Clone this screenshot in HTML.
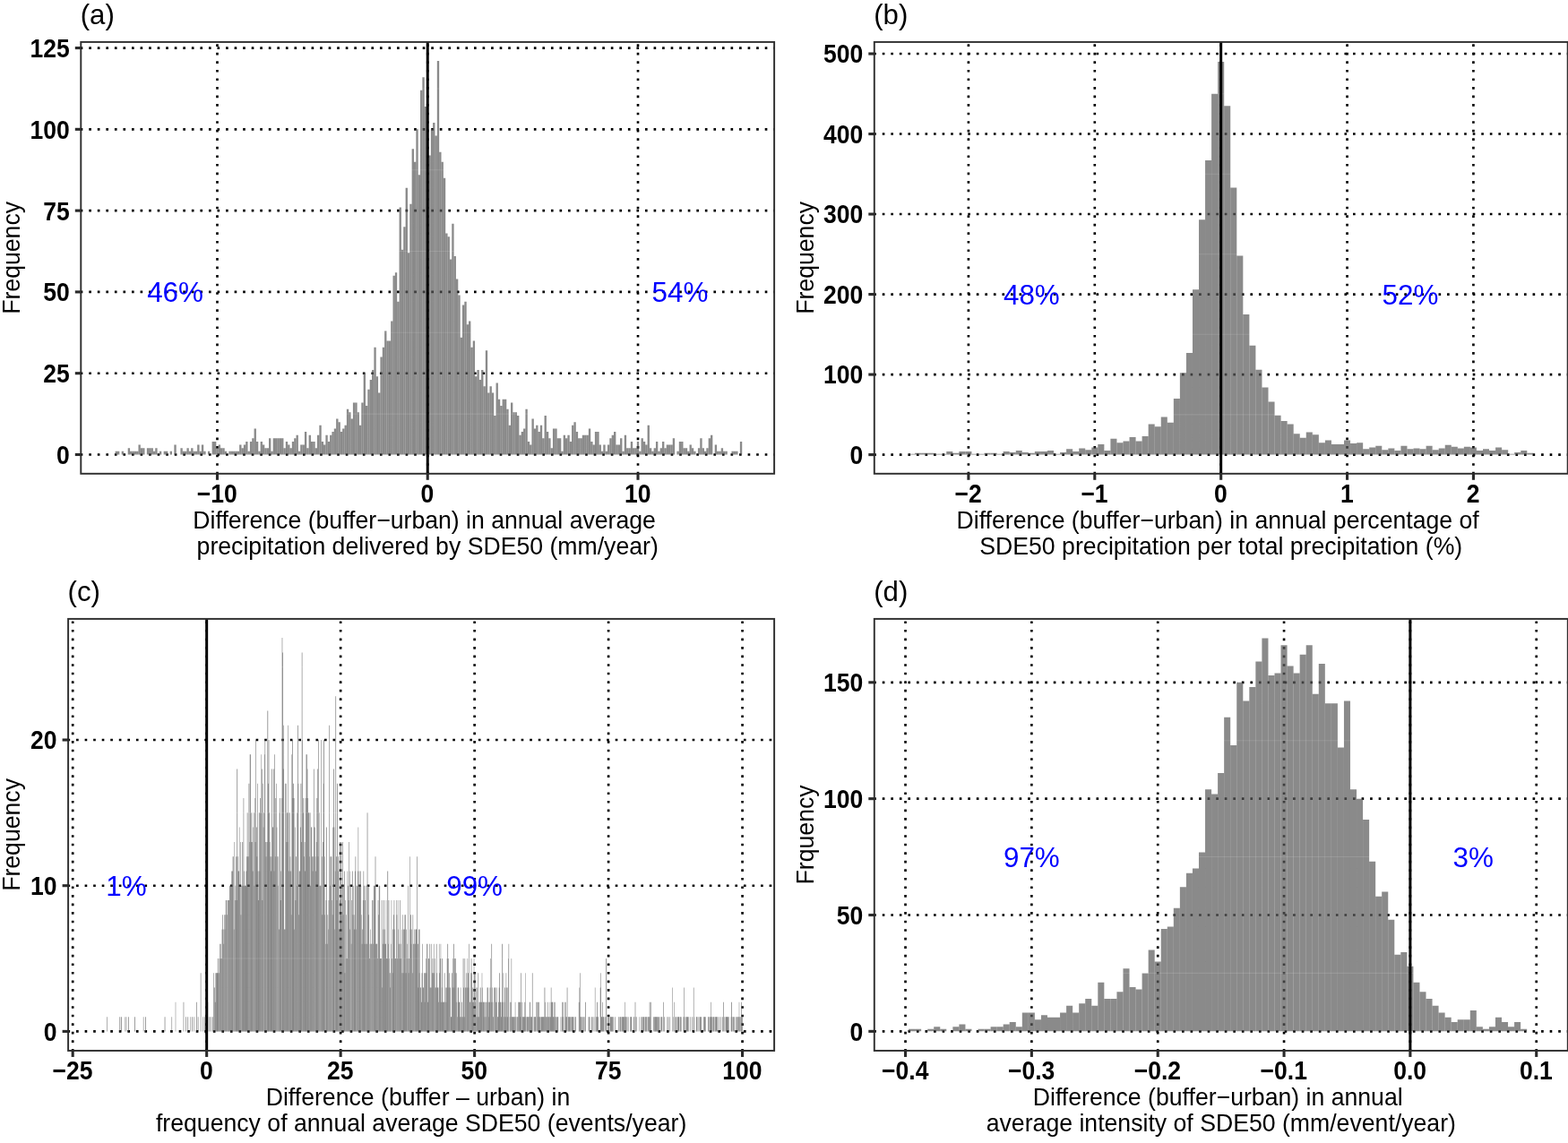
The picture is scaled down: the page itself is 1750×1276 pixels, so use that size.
<!DOCTYPE html>
<html><head><meta charset="utf-8"><title>Figure</title>
<style>
html,body{margin:0;padding:0;background:#fff}
svg{display:block;font-family:"Liberation Sans",sans-serif}
.g{stroke:#000;stroke-width:2.65;stroke-dasharray:2.65 6.9;fill:none}
.b{fill:#595959;fill-opacity:.7}
.mn{stroke:#fff;stroke-width:1.1;stroke-opacity:.12}
.bc{fill:#595959;fill-opacity:.85}
.fr{fill:none;stroke:#303030;stroke-width:1.95}
.tk{stroke:#2a2a2a;stroke-width:3.1}
.yk{font-size:26.5px;font-weight:bold;text-anchor:end;fill:#000}
.xk{font-size:26.5px;font-weight:bold;text-anchor:middle;fill:#000}
.tt{font-size:26.65px;text-anchor:middle;fill:#000}
.lb{font-size:31.2px;fill:#000}
.an{font-size:31.4px;text-anchor:middle;fill:#00f}
</style></head><body>
<svg width="1750" height="1276" viewBox="0 0 1750 1276">
<rect width="1750" height="1276" fill="#fff"/>
<line x1="89.7" y1="507.5" x2="864.1" y2="507.5" class="g"/>
<line x1="89.7" y1="416.71" x2="864.1" y2="416.71" class="g"/>
<line x1="89.7" y1="325.92" x2="864.1" y2="325.92" class="g"/>
<line x1="89.7" y1="235.13" x2="864.1" y2="235.13" class="g"/>
<line x1="89.7" y1="144.34" x2="864.1" y2="144.34" class="g"/>
<line x1="89.7" y1="53.55" x2="864.1" y2="53.55" class="g"/>
<line x1="242.49" y1="529.4" x2="242.49" y2="46.9" class="g"/>
<line x1="477.25" y1="529.4" x2="477.25" y2="46.9" class="g"/>
<line x1="712.01" y1="529.4" x2="712.01" y2="46.9" class="g"/>
<path class="b" d="M130.98 507.5V503.87H133.33V507.5zM135.67 507.5V503.87H138.02V507.5zM145.06 507.5V503.87H147.41V507.5zM149.76 507.5V503.87H152.11V507.5zM154.46 507.5V496.61H156.8V507.5zM159.15 507.5V500.24H161.5V507.5zM163.85 507.5V500.24H166.19V507.5zM168.54 507.5V500.24H170.89V507.5zM173.24 507.5V500.24H175.58V507.5zM177.93 507.5V503.87H180.28V507.5zM182.63 507.5V503.87H184.97V507.5zM201.41 507.5V500.24H203.75V507.5zM206.1 507.5V503.87H208.45V507.5zM210.8 507.5V503.87H213.14V507.5zM215.49 507.5V503.87H217.84V507.5zM220.19 507.5V496.61H222.54V507.5zM224.88 507.5V496.61H227.23V507.5zM238.97 507.5V492.97H241.32V507.5zM243.66 507.5V496.61H246.01V507.5zM248.36 507.5V500.24H250.71V507.5zM257.75 507.5V503.87H260.1V507.5zM262.44 507.5V503.87H264.79V507.5zM267.14 507.5V496.61H269.49V507.5zM271.84 507.5V496.61H274.18V507.5zM276.53 507.5V503.87H278.88V507.5zM281.23 507.5V489.34H283.57V507.5zM285.92 507.5V492.97H288.27V507.5zM290.62 507.5V492.97H292.96V507.5zM295.31 507.5V500.24H297.66V507.5zM300.01 507.5V489.34H302.35V507.5zM304.7 507.5V489.34H307.05V507.5zM309.4 507.5V489.34H311.74V507.5zM314.09 507.5V489.34H316.44V507.5zM318.79 507.5V492.97H321.13V507.5zM323.48 507.5V500.24H325.83V507.5zM328.18 507.5V489.34H330.52V507.5zM332.87 507.5V503.87H335.22V507.5zM337.57 507.5V496.61H339.92V507.5zM342.26 507.5V500.24H344.61V507.5zM346.96 507.5V492.97H349.31V507.5zM351.65 507.5V500.24H354V507.5zM356.35 507.5V474.82H358.7V507.5zM361.04 507.5V496.61H363.39V507.5zM365.74 507.5V492.97H368.09V507.5zM370.43 507.5V482.08H372.78V507.5zM375.13 507.5V467.55H377.48V507.5zM379.82 507.5V482.08H382.17V507.5zM384.52 507.5V474.82H386.87V507.5zM389.22 507.5V460.29H391.56V507.5zM393.91 507.5V449.39H396.26V507.5zM398.61 507.5V460.29H400.95V507.5zM403.3 507.5V449.39H405.65V507.5zM408 507.5V453.03H410.34V507.5zM412.69 507.5V423.97H415.04V507.5zM417.39 507.5V387.66H419.73V507.5zM422.08 507.5V438.5H424.43V507.5zM426.78 507.5V387.66H429.12V507.5zM431.47 507.5V380.39H433.82V507.5zM436.17 507.5V358.6H438.51V507.5zM440.86 507.5V304.13H443.21V507.5zM445.56 507.5V231.5H447.91V507.5zM450.25 507.5V253.29H452.6V507.5zM454.95 507.5V282.34H457.3V507.5zM459.64 507.5V166.13H461.99V507.5zM464.34 507.5V144.34H466.69V507.5zM469.03 507.5V100.76H471.38V507.5zM473.73 507.5V118.92H476.08V507.5zM478.42 507.5V173.39H480.77V507.5zM483.12 507.5V137.08H485.47V507.5zM487.81 507.5V68.08H490.16V507.5zM492.51 507.5V180.66H494.86V507.5zM497.2 507.5V260.55H499.55V507.5zM501.9 507.5V289.6H504.25V507.5zM506.6 507.5V285.97H508.94V507.5zM511.29 507.5V329.55H513.64V507.5zM515.99 507.5V340.45H518.33V507.5zM520.68 507.5V362.24H523.03V507.5zM525.38 507.5V387.66H527.72V507.5zM530.07 507.5V420.34H532.42V507.5zM534.77 507.5V423.97H537.11V507.5zM539.46 507.5V431.24H541.81V507.5zM544.16 507.5V438.5H546.5V507.5zM548.85 507.5V438.5H551.2V507.5zM553.55 507.5V427.6H555.89V507.5zM558.24 507.5V453.03H560.59V507.5zM562.94 507.5V445.76H565.29V507.5zM567.63 507.5V474.82H569.98V507.5zM572.33 507.5V460.29H574.68V507.5zM577.02 507.5V463.92H579.37V507.5zM581.72 507.5V482.08H584.07V507.5zM586.41 507.5V456.66H588.76V507.5zM591.11 507.5V496.61H593.46V507.5zM595.8 507.5V478.45H598.15V507.5zM600.5 507.5V482.08H602.85V507.5zM605.19 507.5V489.34H607.54V507.5zM609.89 507.5V482.08H612.24V507.5zM614.58 507.5V500.24H616.93V507.5zM619.28 507.5V478.45H621.63V507.5zM623.98 507.5V489.34H626.32V507.5zM628.67 507.5V485.71H631.02V507.5zM633.37 507.5V485.71H635.71V507.5zM638.06 507.5V474.82H640.41V507.5zM642.76 507.5V482.08H645.1V507.5zM647.45 507.5V489.34H649.8V507.5zM652.15 507.5V485.71H654.49V507.5zM656.84 507.5V478.45H659.19V507.5zM661.54 507.5V496.61H663.88V507.5zM666.23 507.5V482.08H668.58V507.5zM670.93 507.5V503.87H673.27V507.5zM675.62 507.5V503.87H677.97V507.5zM680.32 507.5V489.34H682.66V507.5zM685.01 507.5V482.08H687.36V507.5zM689.71 507.5V496.61H692.06V507.5zM694.4 507.5V503.87H696.75V507.5zM699.1 507.5V500.24H701.45V507.5zM703.79 507.5V492.97H706.14V507.5zM708.49 507.5V500.24H710.84V507.5zM713.18 507.5V503.87H715.53V507.5zM717.88 507.5V492.97H720.23V507.5zM722.57 507.5V474.82H724.92V507.5zM727.27 507.5V503.87H729.62V507.5zM731.96 507.5V492.97H734.31V507.5zM736.66 507.5V500.24H739.01V507.5zM741.36 507.5V500.24H743.7V507.5zM746.05 507.5V496.61H748.4V507.5zM750.75 507.5V489.34H753.09V507.5zM755.44 507.5V503.87H757.79V507.5zM760.14 507.5V492.97H762.48V507.5zM764.83 507.5V500.24H767.18V507.5zM769.53 507.5V496.61H771.87V507.5zM774.22 507.5V503.87H776.57V507.5zM778.92 507.5V500.24H781.26V507.5zM783.61 507.5V500.24H785.96V507.5zM788.31 507.5V500.24H790.65V507.5zM793 507.5V485.71H795.35V507.5zM797.7 507.5V496.61H800.05V507.5zM802.39 507.5V503.87H804.74V507.5zM807.09 507.5V503.87H809.44V507.5zM816.48 507.5V503.87H818.83V507.5zM821.17 507.5V503.87H823.52V507.5zM825.87 507.5V492.97H828.22V507.5z"/><path class="b" d="M128.63 507.5V503.87H130.98V507.5zM142.72 507.5V500.24H145.06V507.5zM147.41 507.5V503.87H149.76V507.5zM152.11 507.5V503.87H154.46V507.5zM156.8 507.5V500.24H159.15V507.5zM166.19 507.5V500.24H168.54V507.5zM170.89 507.5V503.87H173.24V507.5zM184.97 507.5V503.87H187.32V507.5zM189.67 507.5V503.87H192.02V507.5zM194.36 507.5V496.61H196.71V507.5zM203.75 507.5V503.87H206.1V507.5zM208.45 507.5V500.24H210.8V507.5zM213.14 507.5V500.24H215.49V507.5zM217.84 507.5V503.87H220.19V507.5zM222.54 507.5V503.87H224.88V507.5zM227.23 507.5V503.87H229.58V507.5zM231.93 507.5V503.87H234.27V507.5zM236.62 507.5V492.97H238.97V507.5zM241.32 507.5V500.24H243.66V507.5zM246.01 507.5V500.24H248.36V507.5zM250.71 507.5V503.87H253.05V507.5zM255.4 507.5V503.87H257.75V507.5zM260.1 507.5V503.87H262.44V507.5zM264.79 507.5V503.87H267.14V507.5zM269.49 507.5V500.24H271.84V507.5zM274.18 507.5V492.97H276.53V507.5zM278.88 507.5V492.97H281.23V507.5zM283.57 507.5V478.45H285.92V507.5zM288.27 507.5V503.87H290.62V507.5zM292.96 507.5V496.61H295.31V507.5zM297.66 507.5V500.24H300.01V507.5zM302.35 507.5V503.87H304.7V507.5zM307.05 507.5V489.34H309.4V507.5zM311.74 507.5V489.34H314.09V507.5zM316.44 507.5V500.24H318.79V507.5zM321.13 507.5V496.61H323.48V507.5zM325.83 507.5V492.97H328.18V507.5zM330.53 507.5V485.71H332.87V507.5zM335.22 507.5V496.61H337.57V507.5zM339.92 507.5V482.08H342.26V507.5zM344.61 507.5V485.71H346.96V507.5zM349.31 507.5V492.97H351.65V507.5zM354 507.5V485.71H356.35V507.5zM358.7 507.5V492.97H361.04V507.5zM363.39 507.5V485.71H365.74V507.5zM368.09 507.5V485.71H370.43V507.5zM372.78 507.5V478.45H375.13V507.5zM377.48 507.5V471.18H379.82V507.5zM382.17 507.5V478.45H384.52V507.5zM386.87 507.5V456.66H389.22V507.5zM391.56 507.5V467.55H393.91V507.5zM396.26 507.5V449.39H398.61V507.5zM400.95 507.5V474.82H403.3V507.5zM405.65 507.5V416.71H408V507.5zM410.34 507.5V434.87H412.69V507.5zM415.04 507.5V413.08H417.39V507.5zM419.73 507.5V420.34H422.08V507.5zM424.43 507.5V398.55H426.78V507.5zM429.12 507.5V369.5H431.47V507.5zM433.82 507.5V380.39H436.17V507.5zM438.51 507.5V307.76H440.86V507.5zM443.21 507.5V336.81H445.56V507.5zM447.91 507.5V278.71H450.25V507.5zM452.6 507.5V209.71H454.95V507.5zM457.3 507.5V227.87H459.64V507.5zM461.99 507.5V180.66H464.34V507.5zM466.69 507.5V195.18H469.03V507.5zM471.38 507.5V86.23H473.73V507.5zM476.08 507.5V144.34H478.42V507.5zM480.77 507.5V144.34H483.12V507.5zM485.47 507.5V151.6H487.81V507.5zM490.16 507.5V169.76H492.51V507.5zM494.86 507.5V198.81H497.2V507.5zM499.55 507.5V264.18H501.9V507.5zM504.25 507.5V249.66H506.6V507.5zM508.94 507.5V311.39H511.29V507.5zM513.64 507.5V376.76H515.99V507.5zM518.33 507.5V336.81H520.68V507.5zM523.03 507.5V358.6H525.38V507.5zM527.72 507.5V380.39H530.07V507.5zM532.42 507.5V413.08H534.77V507.5zM537.11 507.5V413.08H539.46V507.5zM541.81 507.5V391.29H544.16V507.5zM546.5 507.5V431.24H548.85V507.5zM551.2 507.5V463.92H553.55V507.5zM555.89 507.5V445.76H558.24V507.5zM560.59 507.5V445.76H562.94V507.5zM565.28 507.5V456.66H567.63V507.5zM569.98 507.5V449.39H572.33V507.5zM574.68 507.5V460.29H577.02V507.5zM579.37 507.5V485.71H581.72V507.5zM584.07 507.5V478.45H586.41V507.5zM588.76 507.5V492.97H591.11V507.5zM593.46 507.5V467.55H595.8V507.5zM598.15 507.5V474.82H600.5V507.5zM602.85 507.5V474.82H605.19V507.5zM607.54 507.5V463.92H609.89V507.5zM612.24 507.5V489.34H614.58V507.5zM616.93 507.5V478.45H619.28V507.5zM621.63 507.5V489.34H623.98V507.5zM626.32 507.5V503.87H628.67V507.5zM631.02 507.5V489.34H633.37V507.5zM635.71 507.5V492.97H638.06V507.5zM640.41 507.5V471.18H642.76V507.5zM645.1 507.5V489.34H647.45V507.5zM649.8 507.5V485.71H652.15V507.5zM654.49 507.5V485.71H656.84V507.5zM659.19 507.5V492.97H661.54V507.5zM663.88 507.5V482.08H666.23V507.5zM668.58 507.5V496.61H670.93V507.5zM673.27 507.5V496.61H675.62V507.5zM677.97 507.5V496.61H680.32V507.5zM682.67 507.5V485.71H685.01V507.5zM687.36 507.5V496.61H689.71V507.5zM692.06 507.5V489.34H694.4V507.5zM696.75 507.5V485.71H699.1V507.5zM701.45 507.5V500.24H703.79V507.5zM706.14 507.5V500.24H708.49V507.5zM710.84 507.5V492.97H713.18V507.5zM715.53 507.5V489.34H717.88V507.5zM720.23 507.5V496.61H722.57V507.5zM724.92 507.5V500.24H727.27V507.5zM729.62 507.5V500.24H731.96V507.5zM734.31 507.5V503.87H736.66V507.5zM739.01 507.5V492.97H741.36V507.5zM743.7 507.5V496.61H746.05V507.5zM748.4 507.5V496.61H750.75V507.5zM757.79 507.5V492.97H760.14V507.5zM762.48 507.5V500.24H764.83V507.5zM767.18 507.5V503.87H769.53V507.5zM771.87 507.5V500.24H774.22V507.5zM781.26 507.5V489.34H783.61V507.5zM785.96 507.5V503.87H788.31V507.5zM790.65 507.5V489.34H793V507.5zM800.05 507.5V503.87H802.39V507.5zM804.74 507.5V500.24H807.09V507.5zM809.44 507.5V503.87H811.78V507.5zM818.83 507.5V503.87H821.17V507.5z"/>
<line x1="90.3" y1="462.11" x2="864.1" y2="462.11" class="mn"/>
<line x1="90.3" y1="371.31" x2="864.1" y2="371.31" class="mn"/>
<line x1="90.3" y1="280.52" x2="864.1" y2="280.52" class="mn"/>
<line x1="90.3" y1="189.74" x2="864.1" y2="189.74" class="mn"/>
<line x1="90.3" y1="98.94" x2="864.1" y2="98.94" class="mn"/>
<line x1="477.25" y1="46.9" x2="477.25" y2="528.8" stroke="#000" stroke-width="3"/>
<text x="195.54" y="337.16" class="an">46%</text>
<text x="758.96" y="337.16" class="an">54%</text>
<rect x="90.3" y="46.9" width="773.8" height="481.9" class="fr"/>
<line x1="83.8" y1="507.5" x2="90.3" y2="507.5" class="tk"/>
<text transform="translate(77.7 517.9) scale(1 1.08)" class="yk">0</text>
<line x1="83.8" y1="416.71" x2="90.3" y2="416.71" class="tk"/>
<text transform="translate(77.7 427.11) scale(1 1.08)" class="yk">25</text>
<line x1="83.8" y1="325.92" x2="90.3" y2="325.92" class="tk"/>
<text transform="translate(77.7 336.32) scale(1 1.08)" class="yk">50</text>
<line x1="83.8" y1="235.13" x2="90.3" y2="235.13" class="tk"/>
<text transform="translate(77.7 245.53) scale(1 1.08)" class="yk">75</text>
<line x1="83.8" y1="144.34" x2="90.3" y2="144.34" class="tk"/>
<text transform="translate(77.7 154.74) scale(1 1.08)" class="yk">100</text>
<line x1="83.8" y1="53.55" x2="90.3" y2="53.55" class="tk"/>
<text transform="translate(77.7 63.95) scale(1 1.08)" class="yk">125</text>
<line x1="242.49" y1="528.8" x2="242.49" y2="535.8" class="tk"/>
<text transform="translate(242.19 561.1) scale(1 1.08)" class="xk">−10</text>
<line x1="477.25" y1="528.8" x2="477.25" y2="535.8" class="tk"/>
<text transform="translate(476.95 561.1) scale(1 1.08)" class="xk">0</text>
<line x1="712.01" y1="528.8" x2="712.01" y2="535.8" class="tk"/>
<text transform="translate(711.71 561.1) scale(1 1.08)" class="xk">10</text>
<text transform="translate(473.6 590.1) scale(1 1.035)" class="tt">Difference (buffer−urban) in annual average</text>
<text transform="translate(477.2 618.6) scale(1 1.035)" class="tt">precipitation delivered by SDE50 (mm/year)</text>
<text transform="translate(22 287.85) rotate(-90) scale(1 1.035)" class="tt">Frequency</text>
<text x="89.7" y="27.4" class="lb">(a)</text>
<line x1="975.2" y1="507.6" x2="1749.7" y2="507.6" class="g"/>
<line x1="975.2" y1="418.08" x2="1749.7" y2="418.08" class="g"/>
<line x1="975.2" y1="328.56" x2="1749.7" y2="328.56" class="g"/>
<line x1="975.2" y1="239.04" x2="1749.7" y2="239.04" class="g"/>
<line x1="975.2" y1="149.52" x2="1749.7" y2="149.52" class="g"/>
<line x1="975.2" y1="60" x2="1749.7" y2="60" class="g"/>
<line x1="1080.91" y1="529.4" x2="1080.91" y2="46.9" class="g"/>
<line x1="1221.79" y1="529.4" x2="1221.79" y2="46.9" class="g"/>
<line x1="1362.67" y1="529.4" x2="1362.67" y2="46.9" class="g"/>
<line x1="1503.55" y1="529.4" x2="1503.55" y2="46.9" class="g"/>
<line x1="1644.43" y1="529.4" x2="1644.43" y2="46.9" class="g"/>
<path class="b" d="M1021.04 507.6V505.81H1028.08V507.6zM1035.12 507.6V505.81H1042.17V507.6zM1049.21 507.6V506.7H1056.26V507.6zM1063.3 507.6V505.81H1070.34V507.6zM1077.39 507.6V504.02H1084.43V507.6zM1091.48 507.6V506.7H1098.52V507.6zM1105.56 507.6V505.81H1112.61V507.6zM1119.65 507.6V504.02H1126.7V507.6zM1133.74 507.6V503.12H1140.78V507.6zM1147.83 507.6V505.81H1154.87V507.6zM1161.92 507.6V504.02H1168.96V507.6zM1176 507.6V506.7H1183.05V507.6zM1190.09 507.6V501.33H1197.14V507.6zM1204.18 507.6V500.44H1211.22V507.6zM1218.27 507.6V499.54H1225.31V507.6zM1232.36 507.6V503.12H1239.4V507.6zM1246.44 507.6V494.17H1253.49V507.6zM1260.53 507.6V487.91H1267.58V507.6zM1274.62 507.6V487.01H1281.66V507.6zM1288.71 507.6V476.27H1295.75V507.6zM1302.8 507.6V471.79H1309.84V507.6zM1316.88 507.6V416.29H1323.93V507.6zM1330.97 507.6V323.19H1338.02V507.6zM1345.06 507.6V179.06H1352.1V507.6zM1359.15 507.6V68.95H1366.19V507.6zM1373.24 507.6V209.5H1380.28V507.6zM1387.32 507.6V350.94H1394.37V507.6zM1401.41 507.6V412.71H1408.46V507.6zM1415.5 507.6V448.52H1422.54V507.6zM1429.59 507.6V470H1436.63V507.6zM1443.68 507.6V484.32H1450.72V507.6zM1457.76 507.6V482.53H1464.81V507.6zM1471.85 507.6V494.17H1478.9V507.6zM1485.94 507.6V495.96H1492.98V507.6zM1500.03 507.6V491.49H1507.07V507.6zM1514.12 507.6V494.17H1521.16V507.6zM1528.2 507.6V499.54H1535.25V507.6zM1542.29 507.6V502.23H1549.34V507.6zM1556.38 507.6V503.12H1563.42V507.6zM1570.47 507.6V501.33H1577.51V507.6zM1584.56 507.6V501.33H1591.6V507.6zM1598.64 507.6V502.23H1605.69V507.6zM1612.73 507.6V496.86H1619.78V507.6zM1626.82 507.6V500.44H1633.86V507.6zM1640.91 507.6V499.54H1647.95V507.6zM1655 507.6V501.33H1662.04V507.6zM1669.08 507.6V499.54H1676.13V507.6zM1683.17 507.6V506.7H1690.22V507.6zM1697.26 507.6V503.12H1704.3V507.6z"/><path class="b" d="M1013.99 507.6V506.7H1021.04V507.6zM1028.08 507.6V505.81H1035.12V507.6zM1042.17 507.6V506.7H1049.21V507.6zM1056.26 507.6V504.02H1063.3V507.6zM1070.34 507.6V504.02H1077.39V507.6zM1084.43 507.6V506.7H1091.48V507.6zM1098.52 507.6V505.81H1105.56V507.6zM1112.61 507.6V506.7H1119.65V507.6zM1126.7 507.6V504.91H1133.74V507.6zM1140.78 507.6V504.91H1147.83V507.6zM1154.87 507.6V504.02H1161.92V507.6zM1168.96 507.6V503.12H1176V507.6zM1183.05 507.6V504.91H1190.09V507.6zM1197.14 507.6V504.02H1204.18V507.6zM1211.22 507.6V502.23H1218.27V507.6zM1225.31 507.6V495.96H1232.36V507.6zM1239.4 507.6V489.7H1246.44V507.6zM1253.49 507.6V492.38H1260.53V507.6zM1267.58 507.6V492.38H1274.62V507.6zM1281.66 507.6V473.58H1288.71V507.6zM1295.75 507.6V465.53H1302.8V507.6zM1309.84 507.6V444.94H1316.88V507.6zM1323.93 507.6V393.91H1330.97V507.6zM1338.02 507.6V245.31H1345.06V507.6zM1352.1 507.6V104.76H1359.15V507.6zM1366.19 507.6V118.19H1373.24V507.6zM1380.28 507.6V285.59H1387.32V507.6zM1394.37 507.6V385.85H1401.41V507.6zM1408.46 507.6V432.4H1415.5V507.6zM1422.54 507.6V463.74H1429.59V507.6zM1436.63 507.6V473.58H1443.68V507.6zM1450.72 507.6V488.8H1457.76V507.6zM1464.81 507.6V485.22H1471.85V507.6zM1478.9 507.6V491.49H1485.94V507.6zM1492.98 507.6V495.96H1500.03V507.6zM1507.07 507.6V495.07H1514.12V507.6zM1521.16 507.6V501.33H1528.2V507.6zM1535.25 507.6V497.75H1542.29V507.6zM1549.34 507.6V500.44H1556.38V507.6zM1563.42 507.6V497.75H1570.47V507.6zM1577.51 507.6V500.44H1584.56V507.6zM1591.6 507.6V497.75H1598.64V507.6zM1605.69 507.6V500.44H1612.73V507.6zM1619.78 507.6V498.65H1626.82V507.6zM1633.86 507.6V498.65H1640.91V507.6zM1647.95 507.6V503.12H1655V507.6zM1662.04 507.6V503.12H1669.08V507.6zM1676.13 507.6V502.23H1683.17V507.6zM1690.22 507.6V504.91H1697.26V507.6zM1704.3 507.6V505.81H1711.35V507.6z"/>
<line x1="975.8" y1="462.84" x2="1749.7" y2="462.84" class="mn"/>
<line x1="975.8" y1="373.32" x2="1749.7" y2="373.32" class="mn"/>
<line x1="975.8" y1="283.8" x2="1749.7" y2="283.8" class="mn"/>
<line x1="975.8" y1="194.28" x2="1749.7" y2="194.28" class="mn"/>
<line x1="975.8" y1="104.76" x2="1749.7" y2="104.76" class="mn"/>
<line x1="1362.67" y1="46.9" x2="1362.67" y2="528.8" stroke="#000" stroke-width="3"/>
<text x="1151.35" y="339.8" class="an">48%</text>
<text x="1573.99" y="339.8" class="an">52%</text>
<rect x="975.8" y="46.9" width="773.9" height="481.9" class="fr"/>
<line x1="969.3" y1="507.6" x2="975.8" y2="507.6" class="tk"/>
<text transform="translate(963.2 518) scale(1 1.08)" class="yk">0</text>
<line x1="969.3" y1="418.08" x2="975.8" y2="418.08" class="tk"/>
<text transform="translate(963.2 428.48) scale(1 1.08)" class="yk">100</text>
<line x1="969.3" y1="328.56" x2="975.8" y2="328.56" class="tk"/>
<text transform="translate(963.2 338.96) scale(1 1.08)" class="yk">200</text>
<line x1="969.3" y1="239.04" x2="975.8" y2="239.04" class="tk"/>
<text transform="translate(963.2 249.44) scale(1 1.08)" class="yk">300</text>
<line x1="969.3" y1="149.52" x2="975.8" y2="149.52" class="tk"/>
<text transform="translate(963.2 159.92) scale(1 1.08)" class="yk">400</text>
<line x1="969.3" y1="60" x2="975.8" y2="60" class="tk"/>
<text transform="translate(963.2 70.4) scale(1 1.08)" class="yk">500</text>
<line x1="1080.91" y1="528.8" x2="1080.91" y2="535.8" class="tk"/>
<text transform="translate(1080.61 561.1) scale(1 1.08)" class="xk">−2</text>
<line x1="1221.79" y1="528.8" x2="1221.79" y2="535.8" class="tk"/>
<text transform="translate(1221.49 561.1) scale(1 1.08)" class="xk">−1</text>
<line x1="1362.67" y1="528.8" x2="1362.67" y2="535.8" class="tk"/>
<text transform="translate(1362.37 561.1) scale(1 1.08)" class="xk">0</text>
<line x1="1503.55" y1="528.8" x2="1503.55" y2="535.8" class="tk"/>
<text transform="translate(1503.25 561.1) scale(1 1.08)" class="xk">1</text>
<line x1="1644.43" y1="528.8" x2="1644.43" y2="535.8" class="tk"/>
<text transform="translate(1644.13 561.1) scale(1 1.08)" class="xk">2</text>
<text transform="translate(1359.15 590.1) scale(1 1.035)" class="tt">Difference (buffer−urban) in annual percentage of</text>
<text transform="translate(1362.75 618.6) scale(1 1.035)" class="tt">SDE50 precipitation per total precipitation (%)</text>
<text transform="translate(907.7 287.85) rotate(-90) scale(1 1.035)" class="tt">Frequency</text>
<text x="975.2" y="27.4" class="lb">(b)</text>
<line x1="75.5" y1="1151.4" x2="864.1" y2="1151.4" class="g"/>
<line x1="75.5" y1="988.7" x2="864.1" y2="988.7" class="g"/>
<line x1="75.5" y1="826" x2="864.1" y2="826" class="g"/>
<line x1="81.19" y1="1173.55" x2="81.19" y2="690.9" class="g"/>
<line x1="230.67" y1="1173.55" x2="230.67" y2="690.9" class="g"/>
<line x1="380.14" y1="1173.55" x2="380.14" y2="690.9" class="g"/>
<line x1="529.62" y1="1173.55" x2="529.62" y2="690.9" class="g"/>
<line x1="679.1" y1="1173.55" x2="679.1" y2="690.9" class="g"/>
<line x1="828.57" y1="1173.55" x2="828.57" y2="690.9" class="g"/>
<path class="bc" d="M119.18 1151.4v-16.27h0.56v16.27zM133.47 1151.4v-16.27h0.68v16.27zM140.69 1151.4v-16.27h0.59v16.27zM143.04 1151.4v-16.27h0.67v16.27zM150.21 1151.4v-16.27h0.69v16.27zM159.86 1151.4v-16.27h0.52v16.27zM162.17 1151.4v-16.27h0.69v16.27zM183.71 1151.4v-16.27h0.65v16.27zM195.77 1151.4v-32.54h0.45v32.54zM212.49 1151.4v-16.27h0.49v16.27zM216.06 1151.4v-16.27h0.52v16.27zM220.79 1151.4v-16.27h0.63v16.27zM227.93 1151.4v-16.27h0.7v16.27zM231.57 1151.4v-32.54h0.6v32.54zM232.83 1151.4v-16.27h0.46v16.27zM233.97 1151.4v-16.27h0.57v16.27zM238.81 1151.4v-48.81h0.46v48.81zM239.9 1151.4v-32.54h0.67v32.54zM241.17 1151.4v-65.08h0.52v65.08zM242.31 1151.4v-65.08h0.64v65.08zM243.54 1151.4v-65.08h0.57v65.08zM244.73 1151.4v-81.35h0.58v81.35zM245.95 1151.4v-97.62h0.53v97.62zM247.17 1151.4v-81.35h0.49v81.35zM248.31 1151.4v-130.16h0.6v130.16zM249.55 1151.4v-97.62h0.5v97.62zM250.77 1151.4v-113.89h0.45v113.89zM251.86 1151.4v-146.43h0.67v146.43zM253.12 1151.4v-130.16h0.54v130.16zM254.34 1151.4v-146.43h0.5v146.43zM255.54 1151.4v-146.43h0.49v146.43zM256.65 1151.4v-162.7h0.65v162.7zM257.93 1151.4v-162.7h0.48v162.7zM259.05 1151.4v-178.97h0.65v178.97zM260.35 1151.4v-195.24h0.44v195.24zM261.54 1151.4v-211.51h0.45v211.51zM262.72 1151.4v-162.7h0.47v162.7zM263.82 1151.4v-146.43h0.67v146.43zM265.08 1151.4v-195.24h0.54v195.24zM266.23 1151.4v-178.97h0.63v178.97zM267.47 1151.4v-162.7h0.54v162.7zM268.64 1151.4v-130.16h0.6v130.16zM269.9 1151.4v-162.7h0.47v162.7zM271.02 1151.4v-162.7h0.63v162.7zM272.23 1151.4v-178.97h0.58v178.97zM273.45 1151.4v-162.7h0.54v162.7zM274.58 1151.4v-178.97h0.68v178.97zM275.79 1151.4v-244.05h0.64v244.05zM277.06 1151.4v-195.24h0.49v195.24zM278.27 1151.4v-211.51h0.47v211.51zM279.42 1151.4v-309.13h0.56v309.13zM280.55 1151.4v-244.05h0.7v244.05zM281.78 1151.4v-178.97h0.63v178.97zM283.02 1151.4v-244.05h0.53v244.05zM284.22 1151.4v-260.32h0.52v260.32zM285.4 1151.4v-325.4h0.55v325.4zM286.57 1151.4v-195.24h0.62v195.24zM287.76 1151.4v-178.97h0.62v178.97zM288.93 1151.4v-244.05h0.68v244.05zM290.15 1151.4v-260.32h0.63v260.32zM291.43 1151.4v-309.13h0.46v309.13zM292.52 1151.4v-146.43h0.66v146.43zM293.79 1151.4v-227.78h0.52v227.78zM294.97 1151.4v-309.13h0.55v309.13zM296.16 1151.4v-211.51h0.57v211.51zM297.42 1151.4v-211.51h0.43v211.51zM298.48 1151.4v-357.94h0.7v357.94zM299.73 1151.4v-325.4h0.59v325.4zM300.99 1151.4v-211.51h0.47v211.51zM302.07 1151.4v-178.97h0.7v178.97zM303.3 1151.4v-292.86h0.64v292.86zM304.51 1151.4v-227.78h0.6v227.78zM305.76 1151.4v-178.97h0.5v178.97zM306.92 1151.4v-195.24h0.57v195.24zM308.14 1151.4v-276.59h0.52v276.59zM309.35 1151.4v-195.24h0.48v195.24zM310.56 1151.4v-195.24h0.45v195.24zM311.76 1151.4v-244.05h0.46v244.05zM312.83 1151.4v-146.43h0.7v146.43zM314.14 1151.4v-260.32h0.47v260.32zM315.24 1151.4v-423.02h0.67v423.02zM316.51 1151.4v-341.67h0.51v341.67zM317.61 1151.4v-113.89h0.71v113.89zM318.83 1151.4v-276.59h0.66v276.59zM320 1151.4v-244.05h0.71v244.05zM321.3 1151.4v-341.67h0.51v341.67zM322.43 1151.4v-178.97h0.64v178.97zM323.67 1151.4v-195.24h0.56v195.24zM324.9 1151.4v-130.16h0.48v130.16zM325.99 1151.4v-325.4h0.68v325.4zM327.21 1151.4v-276.59h0.65v276.59zM328.46 1151.4v-113.89h0.53v113.89zM329.58 1151.4v-146.43h0.69v146.43zM330.89 1151.4v-162.7h0.46v162.7zM331.99 1151.4v-341.67h0.65v341.67zM333.25 1151.4v-130.16h0.52v130.16zM334.37 1151.4v-178.97h0.67v178.97zM335.59 1151.4v-276.59h0.63v276.59zM336.8 1151.4v-423.02h0.59v423.02zM338.02 1151.4v-244.05h0.55v244.05zM339.2 1151.4v-195.24h0.58v195.24zM340.36 1151.4v-178.97h0.66v178.97zM341.62 1151.4v-309.13h0.51v309.13zM342.8 1151.4v-292.86h0.55v292.86zM343.98 1151.4v-244.05h0.58v244.05zM345.23 1151.4v-195.24h0.48v195.24zM346.36 1151.4v-162.7h0.6v162.7zM347.55 1151.4v-227.78h0.62v227.78zM348.77 1151.4v-178.97h0.58v178.97zM349.95 1151.4v-292.86h0.6v292.86zM351.22 1151.4v-227.78h0.45v227.78zM352.33 1151.4v-178.97h0.63v178.97zM353.51 1151.4v-260.32h0.65v260.32zM354.76 1151.4v-195.24h0.55v195.24zM356.01 1151.4v-244.05h0.44v244.05zM357.2 1151.4v-162.7h0.46v162.7zM358.36 1151.4v-325.4h0.52v325.4zM359.47 1151.4v-130.16h0.68v130.16zM360.76 1151.4v-276.59h0.51v276.59zM361.94 1151.4v-130.16h0.55v130.16zM363.19 1151.4v-97.62h0.43v97.62zM364.28 1151.4v-227.78h0.64v227.78zM365.53 1151.4v-130.16h0.53v130.16zM366.69 1151.4v-146.43h0.6v146.43zM367.96 1151.4v-195.24h0.46v195.24zM369.07 1151.4v-195.24h0.62v195.24zM370.36 1151.4v-146.43h0.44v146.43zM371.49 1151.4v-227.78h0.56v227.78zM372.68 1151.4v-227.78h0.59v227.78zM373.94 1151.4v-178.97h0.46v178.97zM375.04 1151.4v-195.24h0.64v195.24zM376.23 1151.4v-276.59h0.66v276.59zM377.52 1151.4v-195.24h0.46v195.24zM378.68 1151.4v-211.51h0.53v211.51zM379.82 1151.4v-211.51h0.65v211.51zM381.1 1151.4v-130.16h0.48v130.16zM382.25 1151.4v-211.51h0.59v211.51zM383.47 1151.4v-162.7h0.53v162.7zM384.64 1151.4v-65.08h0.57v65.08zM385.89 1151.4v-81.35h0.48v81.35zM387.03 1151.4v-81.35h0.58v81.35zM388.25 1151.4v-162.7h0.53v162.7zM389.44 1151.4v-211.51h0.55v211.51zM390.68 1151.4v-178.97h0.46v178.97zM391.86 1151.4v-97.62h0.49v97.62zM392.97 1151.4v-178.97h0.65v178.97zM394.24 1151.4v-162.7h0.51v162.7zM395.36 1151.4v-113.89h0.67v113.89zM396.59 1151.4v-195.24h0.59v195.24zM397.81 1151.4v-162.7h0.55v162.7zM399 1151.4v-178.97h0.56v178.97zM400.21 1151.4v-162.7h0.53v162.7zM401.32 1151.4v-162.7h0.69v162.7zM402.64 1151.4v-162.7h0.46v162.7zM403.74 1151.4v-97.62h0.65v97.62zM404.95 1151.4v-146.43h0.62v146.43zM406.11 1151.4v-162.7h0.7v162.7zM407.41 1151.4v-146.43h0.48v146.43zM408.61 1151.4v-97.62h0.46v97.62zM409.73 1151.4v-244.05h0.62v244.05zM410.9 1151.4v-130.16h0.67v130.16zM412.14 1151.4v-81.35h0.59v81.35zM413.37 1151.4v-113.89h0.51v113.89zM414.6 1151.4v-97.62h0.46v97.62zM415.72 1151.4v-146.43h0.61v146.43zM416.94 1151.4v-162.7h0.55v162.7zM418.06 1151.4v-162.7h0.69v162.7zM419.34 1151.4v-97.62h0.54v97.62zM420.5 1151.4v-97.62h0.61v97.62zM421.74 1151.4v-146.43h0.52v146.43zM422.86 1151.4v-162.7h0.66v162.7zM424.06 1151.4v-81.35h0.66v81.35zM425.3 1151.4v-81.35h0.57v81.35zM426.52 1151.4v-48.81h0.53v48.81zM427.65 1151.4v-113.89h0.66v113.89zM428.91 1151.4v-113.89h0.52v113.89zM430.02 1151.4v-97.62h0.69v97.62zM431.26 1151.4v-81.35h0.6v81.35zM432.42 1151.4v-178.97h0.68v178.97zM433.63 1151.4v-146.43h0.65v146.43zM434.8 1151.4v-65.08h0.71v65.08zM436.11 1151.4v-97.62h0.48v97.62zM437.3 1151.4v-81.35h0.48v81.35zM438.41 1151.4v-113.89h0.65v113.89zM439.66 1151.4v-146.43h0.55v146.43zM440.8 1151.4v-81.35h0.66v81.35zM442.09 1151.4v-146.43h0.47v146.43zM443.24 1151.4v-81.35h0.56v81.35zM444.45 1151.4v-113.89h0.53v113.89zM445.64 1151.4v-81.35h0.55v81.35zM446.82 1151.4v-97.62h0.58v97.62zM448.09 1151.4v-113.89h0.44v113.89zM449.26 1151.4v-130.16h0.49v130.16zM450.36 1151.4v-113.89h0.68v113.89zM451.59 1151.4v-130.16h0.61v130.16zM452.74 1151.4v-65.08h0.7v65.08zM454.06 1151.4v-81.35h0.44v81.35zM455.22 1151.4v-162.7h0.53v162.7zM456.38 1151.4v-81.35h0.59v81.35zM457.62 1151.4v-113.89h0.51v113.89zM458.85 1151.4v-97.62h0.44v97.62zM460.01 1151.4v-65.08h0.51v65.08zM461.17 1151.4v-97.62h0.59v97.62zM462.41 1151.4v-113.89h0.49v113.89zM463.61 1151.4v-113.89h0.49v113.89zM464.76 1151.4v-113.89h0.58v113.89zM465.9 1151.4v-97.62h0.69v97.62zM467.09 1151.4v-113.89h0.7v113.89zM468.41 1151.4v-113.89h0.46v113.89zM469.61 1151.4v-48.81h0.44v48.81zM470.68 1151.4v-65.08h0.68v65.08zM471.89 1151.4v-48.81h0.67v48.81zM473.11 1151.4v-65.08h0.63v65.08zM474.28 1151.4v-65.08h0.67v65.08zM475.51 1151.4v-65.08h0.61v65.08zM476.78 1151.4v-97.62h0.46v97.62zM477.87 1151.4v-81.35h0.66v81.35zM479.13 1151.4v-97.62h0.54v97.62zM480.31 1151.4v-48.81h0.58v48.81zM481.57 1151.4v-48.81h0.44v48.81zM482.63 1151.4v-81.35h0.7v81.35zM483.94 1151.4v-97.62h0.49v97.62zM485.15 1151.4v-81.35h0.45v81.35zM486.31 1151.4v-48.81h0.52v48.81zM487.48 1151.4v-65.08h0.58v65.08zM488.65 1151.4v-48.81h0.63v48.81zM489.93 1151.4v-97.62h0.46v97.62zM491.01 1151.4v-81.35h0.7v81.35zM492.23 1151.4v-32.54h0.64v32.54zM493.4 1151.4v-81.35h0.69v81.35zM494.65 1151.4v-32.54h0.58v32.54zM495.83 1151.4v-65.08h0.61v65.08zM497.09 1151.4v-48.81h0.49v48.81zM498.24 1151.4v-48.81h0.59v48.81zM499.39 1151.4v-97.62h0.67v97.62zM500.65 1151.4v-48.81h0.55v48.81zM501.9 1151.4v-48.81h0.44v48.81zM503.01 1151.4v-16.27h0.6v16.27zM504.18 1151.4v-65.08h0.65v65.08zM505.44 1151.4v-81.35h0.52v81.35zM506.62 1151.4v-48.81h0.56v48.81zM507.88 1151.4v-65.08h0.44v65.08zM509.05 1151.4v-65.08h0.48v65.08zM510.24 1151.4v-16.27h0.5v16.27zM511.33 1151.4v-48.81h0.7v48.81zM512.53 1151.4v-32.54h0.69v32.54zM513.86 1151.4v-48.81h0.43v48.81zM514.98 1151.4v-32.54h0.59v32.54zM516.19 1151.4v-16.27h0.56v16.27zM517.35 1151.4v-48.81h0.63v48.81zM518.59 1151.4v-81.35h0.54v81.35zM519.78 1151.4v-48.81h0.55v48.81zM520.99 1151.4v-48.81h0.52v48.81zM522.1 1151.4v-65.08h0.7v65.08zM523.38 1151.4v-97.62h0.53v97.62zM524.55 1151.4v-32.54h0.57v32.54zM525.75 1151.4v-81.35h0.58v81.35zM526.92 1151.4v-32.54h0.61v32.54zM528.13 1151.4v-32.54h0.59v32.54zM529.34 1151.4v-65.08h0.57v65.08zM530.57 1151.4v-32.54h0.5v32.54zM531.7 1151.4v-16.27h0.62v16.27zM532.92 1151.4v-16.27h0.58v16.27zM534.12 1151.4v-16.27h0.56v16.27zM535.34 1151.4v-32.54h0.52v32.54zM536.52 1151.4v-32.54h0.56v32.54zM537.76 1151.4v-65.08h0.45v65.08zM538.87 1151.4v-32.54h0.63v32.54zM540.15 1151.4v-32.54h0.47v32.54zM541.34 1151.4v-32.54h0.49v32.54zM542.55 1151.4v-32.54h0.44v32.54zM543.65 1151.4v-48.81h0.64v48.81zM544.92 1151.4v-16.27h0.49v16.27zM546.04 1151.4v-32.54h0.64v32.54zM547.32 1151.4v-81.35h0.48v81.35zM548.44 1151.4v-97.62h0.62v97.62zM549.67 1151.4v-32.54h0.57v32.54zM552.12 1151.4v-48.81h0.45v48.81zM553.3 1151.4v-32.54h0.47v32.54zM554.51 1151.4v-48.81h0.44v48.81zM555.58 1151.4v-16.27h0.69v16.27zM556.8 1151.4v-48.81h0.65v48.81zM558.04 1151.4v-32.54h0.55v32.54zM559.2 1151.4v-16.27h0.63v16.27zM560.36 1151.4v-97.62h0.7v97.62zM561.66 1151.4v-65.08h0.49v65.08zM562.86 1151.4v-32.54h0.49v32.54zM564 1151.4v-16.27h0.59v16.27zM565.26 1151.4v-48.81h0.46v48.81zM566.36 1151.4v-16.27h0.66v16.27zM567.63 1151.4v-97.62h0.51v97.62zM568.78 1151.4v-16.27h0.61v16.27zM570.05 1151.4v-32.54h0.45v32.54zM571.13 1151.4v-16.27h0.69v16.27zM572.41 1151.4v-16.27h0.51v16.27zM573.61 1151.4v-16.27h0.51v16.27zM574.82 1151.4v-32.54h0.48v32.54zM577.18 1151.4v-16.27h0.55v16.27zM578.4 1151.4v-32.54h0.5v32.54zM579.62 1151.4v-32.54h0.45v32.54zM580.73 1151.4v-16.27h0.63v16.27zM583.14 1151.4v-16.27h0.58v16.27zM584.4 1151.4v-16.27h0.46v16.27zM585.5 1151.4v-32.54h0.65v32.54zM586.67 1151.4v-16.27h0.7v16.27zM587.91 1151.4v-16.27h0.6v16.27zM589.19 1151.4v-16.27h0.45v16.27zM590.37 1151.4v-16.27h0.47v16.27zM591.57 1151.4v-32.54h0.47v32.54zM592.72 1151.4v-16.27h0.57v16.27zM593.9 1151.4v-65.08h0.59v65.08zM596.34 1151.4v-16.27h0.49v16.27zM597.51 1151.4v-16.27h0.55v16.27zM599.88 1151.4v-16.27h0.59v16.27zM601.09 1151.4v-32.54h0.57v32.54zM602.25 1151.4v-16.27h0.63v16.27zM603.51 1151.4v-16.27h0.5v16.27zM604.65 1151.4v-16.27h0.61v16.27zM605.89 1151.4v-16.27h0.53v16.27zM607.11 1151.4v-16.27h0.47v16.27zM608.31 1151.4v-32.54h0.47v32.54zM609.5 1151.4v-16.27h0.47v16.27zM610.63 1151.4v-16.27h0.6v16.27zM611.81 1151.4v-16.27h0.63v16.27zM613.08 1151.4v-16.27h0.49v16.27zM614.17 1151.4v-16.27h0.7v16.27zM615.39 1151.4v-32.54h0.65v32.54zM616.67 1151.4v-32.54h0.49v32.54zM617.82 1151.4v-16.27h0.59v16.27zM619.06 1151.4v-32.54h0.5v32.54zM620.25 1151.4v-16.27h0.5v16.27zM621.38 1151.4v-16.27h0.63v16.27zM622.63 1151.4v-16.27h0.54v16.27zM627.41 1151.4v-32.54h0.54v32.54zM628.58 1151.4v-16.27h0.58v16.27zM631.04 1151.4v-32.54h0.44v32.54zM632.14 1151.4v-16.27h0.64v16.27zM634.6 1151.4v-16.27h0.5v16.27zM635.77 1151.4v-16.27h0.55v16.27zM638.11 1151.4v-16.27h0.66v16.27zM639.38 1151.4v-16.27h0.5v16.27zM640.57 1151.4v-16.27h0.53v16.27zM641.79 1151.4v-16.27h0.46v16.27zM646.57 1151.4v-48.81h0.47v48.81zM647.66 1151.4v-16.27h0.69v16.27zM650.09 1151.4v-16.27h0.61v16.27zM651.37 1151.4v-16.27h0.45v16.27zM657.34 1151.4v-16.27h0.47v16.27zM658.54 1151.4v-16.27h0.45v16.27zM660.94 1151.4v-16.27h0.44v16.27zM665.72 1151.4v-16.27h0.45v16.27zM666.79 1151.4v-16.27h0.69v16.27zM670.47 1151.4v-65.08h0.51v65.08zM671.61 1151.4v-16.27h0.63v16.27zM672.84 1151.4v-16.27h0.55v16.27zM676.36 1151.4v-81.35h0.7v81.35zM681.15 1151.4v-16.27h0.67v16.27zM682.39 1151.4v-16.27h0.58v16.27zM683.6 1151.4v-16.27h0.56v16.27zM685.97 1151.4v-16.27h0.61v16.27zM690.76 1151.4v-16.27h0.59v16.27zM691.95 1151.4v-16.27h0.6v16.27zM694.39 1151.4v-16.27h0.5v16.27zM695.56 1151.4v-16.27h0.56v16.27zM696.76 1151.4v-16.27h0.55v16.27zM697.99 1151.4v-16.27h0.48v16.27zM703.88 1151.4v-16.27h0.66v16.27zM707.55 1151.4v-16.27h0.49v16.27zM708.7 1151.4v-32.54h0.59v32.54zM713.55 1151.4v-16.27h0.44v16.27zM715.89 1151.4v-16.27h0.55v16.27zM717.13 1151.4v-16.27h0.47v16.27zM718.27 1151.4v-16.27h0.58v16.27zM720.69 1151.4v-16.27h0.52v16.27zM721.91 1151.4v-16.27h0.46v16.27zM723.06 1151.4v-16.27h0.56v16.27zM724.26 1151.4v-16.27h0.55v16.27zM725.5 1151.4v-16.27h0.46v16.27zM729 1151.4v-16.27h0.64v16.27zM730.25 1151.4v-16.27h0.53v16.27zM731.43 1151.4v-16.27h0.56v16.27zM732.59 1151.4v-16.27h0.64v16.27zM734.95 1151.4v-16.27h0.7v16.27zM738.55 1151.4v-16.27h0.66v16.27zM740.96 1151.4v-16.27h0.63v16.27zM744.58 1151.4v-16.27h0.57v16.27zM745.76 1151.4v-16.27h0.61v16.27zM754.14 1151.4v-16.27h0.59v16.27zM756.49 1151.4v-16.27h0.67v16.27zM757.77 1151.4v-16.27h0.5v16.27zM758.94 1151.4v-16.27h0.56v16.27zM760.18 1151.4v-16.27h0.46v16.27zM762.58 1151.4v-16.27h0.44v16.27zM763.68 1151.4v-16.27h0.64v16.27zM764.93 1151.4v-16.27h0.53v16.27zM766.08 1151.4v-16.27h0.63v16.27zM767.24 1151.4v-16.27h0.69v16.27zM768.47 1151.4v-16.27h0.61v16.27zM772.06 1151.4v-16.27h0.61v16.27zM774.49 1151.4v-16.27h0.55v16.27zM776.84 1151.4v-16.27h0.63v16.27zM781.58 1151.4v-16.27h0.7v16.27zM785.25 1151.4v-16.27h0.55v16.27zM786.39 1151.4v-16.27h0.67v16.27zM790.03 1151.4v-16.27h0.55v16.27zM792.38 1151.4v-16.27h0.64v16.27zM793.61 1151.4v-16.27h0.57v16.27zM794.83 1151.4v-16.27h0.52v16.27zM795.94 1151.4v-16.27h0.7v16.27zM798.41 1151.4v-16.27h0.52v16.27zM799.58 1151.4v-16.27h0.58v16.27zM801.91 1151.4v-16.27h0.7v16.27zM804.35 1151.4v-16.27h0.61v16.27zM810.32 1151.4v-16.27h0.62v16.27zM811.49 1151.4v-16.27h0.68v16.27zM816.27 1151.4v-32.54h0.69v32.54zM818.72 1151.4v-16.27h0.56v16.27zM821.15 1151.4v-16.27h0.48v16.27zM823.53 1151.4v-16.27h0.52v16.27zM824.76 1151.4v-32.54h0.45v32.54zM825.83 1151.4v-16.27h0.7v16.27zM827.06 1151.4v-32.54h0.63v32.54zM828.3 1151.4v-16.27h0.53v16.27z"/><path class="bc" d="M135.26 1151.4v-16.27h0.7v16.27zM138.97 1151.4v-16.27h0.44v16.27zM191.55 1151.4v-16.27h0.51v16.27zM204.67 1151.4v-32.54h0.58v32.54zM207.04 1151.4v-16.27h0.63v16.27zM209.41 1151.4v-16.27h0.67v16.27zM214.19 1151.4v-16.27h0.67v16.27zM218.99 1151.4v-32.54h0.63v32.54zM223.79 1151.4v-65.08h0.6v65.08zM226.23 1151.4v-16.27h0.51v16.27zM235.8 1151.4v-16.27h0.51v16.27zM236.98 1151.4v-16.27h0.54v16.27zM238.18 1151.4v-65.08h0.54v65.08zM239.42 1151.4v-48.81h0.43v48.81zM240.54 1151.4v-65.08h0.59v65.08zM241.69 1151.4v-65.08h0.69v65.08zM242.88 1151.4v-81.35h0.7v81.35zM244.2 1151.4v-65.08h0.45v65.08zM245.33 1151.4v-97.62h0.59v97.62zM246.56 1151.4v-81.35h0.5v81.35zM247.66 1151.4v-113.89h0.7v113.89zM248.96 1151.4v-113.89h0.5v113.89zM250.12 1151.4v-130.16h0.56v130.16zM251.33 1151.4v-130.16h0.53v130.16zM252.58 1151.4v-146.43h0.43v146.43zM253.75 1151.4v-146.43h0.48v146.43zM254.87 1151.4v-146.43h0.63v146.43zM256.11 1151.4v-162.7h0.55v162.7zM257.3 1151.4v-162.7h0.55v162.7zM258.45 1151.4v-178.97h0.64v178.97zM259.7 1151.4v-195.24h0.53v195.24zM260.9 1151.4v-113.89h0.52v113.89zM262.09 1151.4v-146.43h0.54v146.43zM263.21 1151.4v-195.24h0.69v195.24zM264.41 1151.4v-292.86h0.68v292.86zM265.62 1151.4v-178.97h0.66v178.97zM266.91 1151.4v-227.78h0.47v227.78zM268.1 1151.4v-211.51h0.49v211.51zM269.31 1151.4v-162.7h0.45v162.7zM270.39 1151.4v-211.51h0.68v211.51zM271.64 1151.4v-260.32h0.57v260.32zM272.78 1151.4v-162.7h0.69v162.7zM273.97 1151.4v-162.7h0.69v162.7zM275.2 1151.4v-195.24h0.62v195.24zM276.41 1151.4v-195.24h0.59v195.24zM277.58 1151.4v-276.59h0.65v276.59zM278.8 1151.4v-309.13h0.6v309.13zM280 1151.4v-211.51h0.59v211.51zM281.21 1151.4v-211.51h0.56v211.51zM282.47 1151.4v-227.78h0.44v227.78zM283.65 1151.4v-162.7h0.47v162.7zM284.77 1151.4v-211.51h0.62v211.51zM285.94 1151.4v-227.78h0.68v227.78zM287.19 1151.4v-276.59h0.56v276.59zM288.33 1151.4v-146.43h0.67v146.43zM289.62 1151.4v-178.97h0.49v178.97zM290.78 1151.4v-244.05h0.57v244.05zM291.95 1151.4v-292.86h0.62v292.86zM293.21 1151.4v-276.59h0.49v276.59zM294.4 1151.4v-244.05h0.49v244.05zM295.56 1151.4v-325.4h0.56v325.4zM296.74 1151.4v-195.24h0.6v195.24zM297.98 1151.4v-211.51h0.5v211.51zM299.09 1151.4v-276.59h0.67v276.59zM300.32 1151.4v-244.05h0.62v244.05zM301.52 1151.4v-195.24h0.61v195.24zM302.72 1151.4v-195.24h0.59v195.24zM303.96 1151.4v-227.78h0.5v227.78zM305.09 1151.4v-292.86h0.65v292.86zM306.31 1151.4v-309.13h0.58v309.13zM307.51 1151.4v-260.32h0.58v260.32zM308.74 1151.4v-227.78h0.51v227.78zM309.93 1151.4v-162.7h0.51v162.7zM311.09 1151.4v-113.89h0.59v113.89zM312.26 1151.4v-260.32h0.64v260.32zM313.55 1151.4v-178.97h0.45v178.97zM314.7 1151.4v-439.29h0.55v439.29zM315.85 1151.4v-292.86h0.65v292.86zM317.1 1151.4v-113.89h0.54v113.89zM318.32 1151.4v-276.59h0.48v276.59zM319.53 1151.4v-211.51h0.46v211.51zM320.66 1151.4v-211.51h0.59v211.51zM321.86 1151.4v-244.05h0.58v244.05zM323.11 1151.4v-244.05h0.48v244.05zM324.21 1151.4v-178.97h0.66v178.97zM325.51 1151.4v-309.13h0.46v309.13zM326.58 1151.4v-260.32h0.7v260.32zM327.83 1151.4v-260.32h0.59v260.32zM329.09 1151.4v-227.78h0.47v227.78zM330.19 1151.4v-195.24h0.66v195.24zM331.48 1151.4v-244.05h0.48v244.05zM332.62 1151.4v-276.59h0.59v276.59zM333.85 1151.4v-178.97h0.52v178.97zM334.97 1151.4v-227.78h0.67v227.78zM336.19 1151.4v-211.51h0.61v211.51zM337.47 1151.4v-325.4h0.45v325.4zM338.55 1151.4v-260.32h0.67v260.32zM339.83 1151.4v-211.51h0.51v211.51zM340.94 1151.4v-260.32h0.69v260.32zM342.17 1151.4v-309.13h0.62v309.13zM343.35 1151.4v-260.32h0.65v260.32zM344.62 1151.4v-244.05h0.51v244.05zM345.72 1151.4v-244.05h0.68v244.05zM346.99 1151.4v-227.78h0.54v227.78zM348.16 1151.4v-195.24h0.59v195.24zM349.4 1151.4v-195.24h0.5v195.24zM350.54 1151.4v-227.78h0.61v227.78zM351.82 1151.4v-195.24h0.45v195.24zM352.9 1151.4v-211.51h0.67v211.51zM354.13 1151.4v-292.86h0.62v292.86zM355.34 1151.4v-325.4h0.59v325.4zM356.59 1151.4v-162.7h0.47v162.7zM357.69 1151.4v-162.7h0.67v162.7zM358.98 1151.4v-195.24h0.48v195.24zM360.1 1151.4v-211.51h0.63v211.51zM361.26 1151.4v-325.4h0.7v325.4zM362.59 1151.4v-195.24h0.44v195.24zM363.71 1151.4v-146.43h0.58v146.43zM364.89 1151.4v-97.62h0.61v97.62zM366.16 1151.4v-113.89h0.46v113.89zM367.3 1151.4v-341.67h0.57v341.67zM368.55 1151.4v-162.7h0.47v162.7zM369.75 1151.4v-195.24h0.46v195.24zM370.88 1151.4v-130.16h0.59v130.16zM372.03 1151.4v-292.86h0.68v292.86zM373.35 1151.4v-113.89h0.44v113.89zM374.46 1151.4v-374.21h0.62v374.21zM375.7 1151.4v-146.43h0.52v146.43zM376.9 1151.4v-178.97h0.51v178.97zM378.08 1151.4v-113.89h0.55v113.89zM379.28 1151.4v-146.43h0.54v146.43zM380.42 1151.4v-211.51h0.65v211.51zM381.67 1151.4v-162.7h0.53v162.7zM382.91 1151.4v-130.16h0.45v130.16zM384.01 1151.4v-178.97h0.64v178.97zM385.27 1151.4v-146.43h0.51v146.43zM386.46 1151.4v-130.16h0.52v130.16zM387.66 1151.4v-178.97h0.52v178.97zM388.81 1151.4v-146.43h0.62v146.43zM390.05 1151.4v-113.89h0.51v113.89zM391.28 1151.4v-162.7h0.46v162.7zM392.47 1151.4v-146.43h0.46v146.43zM393.66 1151.4v-130.16h0.48v130.16zM394.81 1151.4v-130.16h0.57v130.16zM395.96 1151.4v-178.97h0.66v178.97zM397.26 1151.4v-113.89h0.45v113.89zM398.43 1151.4v-162.7h0.5v162.7zM399.63 1151.4v-227.78h0.5v227.78zM400.78 1151.4v-178.97h0.58v178.97zM402 1151.4v-178.97h0.54v178.97zM403.23 1151.4v-130.16h0.46v130.16zM404.37 1151.4v-113.89h0.57v113.89zM405.57 1151.4v-178.97h0.56v178.97zM406.73 1151.4v-97.62h0.65v97.62zM407.96 1151.4v-162.7h0.57v162.7zM409.18 1151.4v-97.62h0.53v97.62zM410.34 1151.4v-162.7h0.6v162.7zM411.61 1151.4v-162.7h0.45v162.7zM412.72 1151.4v-97.62h0.63v97.62zM414 1151.4v-97.62h0.44v97.62zM415.16 1151.4v-146.43h0.53v146.43zM416.37 1151.4v-97.62h0.49v97.62zM417.57 1151.4v-162.7h0.49v162.7zM418.7 1151.4v-195.24h0.62v195.24zM419.94 1151.4v-97.62h0.53v97.62zM421.15 1151.4v-81.35h0.5v81.35zM422.34 1151.4v-130.16h0.51v130.16zM423.48 1151.4v-162.7h0.63v162.7zM424.76 1151.4v-81.35h0.45v81.35zM425.87 1151.4v-146.43h0.63v146.43zM427.08 1151.4v-97.62h0.59v97.62zM428.26 1151.4v-146.43h0.63v146.43zM429.44 1151.4v-97.62h0.66v97.62zM430.75 1151.4v-146.43h0.43v146.43zM431.86 1151.4v-81.35h0.6v81.35zM433.14 1151.4v-97.62h0.44v97.62zM434.33 1151.4v-81.35h0.44v81.35zM435.47 1151.4v-48.81h0.55v48.81zM436.71 1151.4v-146.43h0.47v146.43zM437.86 1151.4v-65.08h0.57v65.08zM438.99 1151.4v-130.16h0.7v130.16zM440.29 1151.4v-113.89h0.49v113.89zM441.47 1151.4v-81.35h0.52v81.35zM442.65 1151.4v-130.16h0.54v130.16zM443.86 1151.4v-146.43h0.51v146.43zM445.04 1151.4v-97.62h0.55v97.62zM446.22 1151.4v-146.43h0.58v146.43zM447.42 1151.4v-81.35h0.57v81.35zM448.6 1151.4v-65.08h0.6v65.08zM449.79 1151.4v-65.08h0.63v65.08zM451 1151.4v-113.89h0.6v113.89zM452.22 1151.4v-130.16h0.54v130.16zM453.38 1151.4v-113.89h0.61v113.89zM454.63 1151.4v-97.62h0.51v97.62zM455.78 1151.4v-65.08h0.61v65.08zM457.03 1151.4v-195.24h0.48v195.24zM458.13 1151.4v-130.16h0.68v130.16zM459.41 1151.4v-113.89h0.52v113.89zM460.6 1151.4v-130.16h0.53v130.16zM461.83 1151.4v-97.62h0.45v97.62zM462.95 1151.4v-97.62h0.6v97.62zM464.11 1151.4v-113.89h0.69v113.89zM465.36 1151.4v-195.24h0.58v195.24zM466.5 1151.4v-48.81h0.69v48.81zM467.79 1151.4v-65.08h0.5v65.08zM468.93 1151.4v-48.81h0.6v48.81zM470.09 1151.4v-32.54h0.68v32.54zM471.35 1151.4v-97.62h0.54v97.62zM472.58 1151.4v-48.81h0.47v48.81zM473.73 1151.4v-32.54h0.57v32.54zM474.94 1151.4v-81.35h0.54v81.35zM476.12 1151.4v-97.62h0.58v97.62zM477.27 1151.4v-32.54h0.68v32.54zM478.47 1151.4v-81.35h0.65v81.35zM479.76 1151.4v-48.81h0.46v48.81zM480.91 1151.4v-97.62h0.57v97.62zM482.08 1151.4v-65.08h0.61v65.08zM483.29 1151.4v-65.08h0.58v65.08zM484.56 1151.4v-65.08h0.44v65.08zM485.65 1151.4v-48.81h0.65v48.81zM486.88 1151.4v-97.62h0.59v97.62zM488.04 1151.4v-48.81h0.66v48.81zM489.28 1151.4v-32.54h0.57v32.54zM490.45 1151.4v-65.08h0.61v65.08zM491.73 1151.4v-97.62h0.44v97.62zM492.9 1151.4v-48.81h0.5v48.81zM494.03 1151.4v-32.54h0.63v32.54zM495.3 1151.4v-32.54h0.48v32.54zM496.52 1151.4v-32.54h0.44v32.54zM497.68 1151.4v-32.54h0.5v32.54zM498.8 1151.4v-81.35h0.65v81.35zM500.05 1151.4v-81.35h0.54v81.35zM501.22 1151.4v-65.08h0.59v65.08zM502.49 1151.4v-48.81h0.44v48.81zM503.57 1151.4v-16.27h0.67v16.27zM504.82 1151.4v-48.81h0.57v48.81zM505.97 1151.4v-97.62h0.67v97.62zM507.17 1151.4v-81.35h0.66v81.35zM508.39 1151.4v-81.35h0.6v81.35zM509.61 1151.4v-32.54h0.57v32.54zM510.87 1151.4v-48.81h0.44v48.81zM511.94 1151.4v-32.54h0.69v32.54zM513.19 1151.4v-16.27h0.58v16.27zM514.4 1151.4v-16.27h0.55v16.27zM515.65 1151.4v-16.27h0.44v16.27zM516.74 1151.4v-81.35h0.66v81.35zM517.99 1151.4v-16.27h0.55v16.27zM519.18 1151.4v-48.81h0.56v48.81zM520.41 1151.4v-65.08h0.48v65.08zM521.59 1151.4v-81.35h0.52v81.35zM522.82 1151.4v-48.81h0.45v48.81zM524.02 1151.4v-32.54h0.45v32.54zM525.22 1151.4v-65.08h0.43v65.08zM526.35 1151.4v-65.08h0.57v65.08zM527.51 1151.4v-48.81h0.64v48.81zM528.8 1151.4v-81.35h0.45v81.35zM529.99 1151.4v-65.08h0.47v65.08zM531.2 1151.4v-48.81h0.44v48.81zM532.35 1151.4v-48.81h0.52v48.81zM533.51 1151.4v-65.08h0.6v65.08zM534.71 1151.4v-32.54h0.58v32.54zM535.85 1151.4v-48.81h0.7v48.81zM537.05 1151.4v-32.54h0.68v32.54zM538.35 1151.4v-48.81h0.49v48.81zM539.44 1151.4v-32.54h0.69v32.54zM540.69 1151.4v-16.27h0.59v16.27zM541.96 1151.4v-16.27h0.44v16.27zM543.11 1151.4v-32.54h0.52v32.54zM544.31 1151.4v-48.81h0.53v48.81zM545.41 1151.4v-32.54h0.7v32.54zM546.65 1151.4v-48.81h0.61v48.81zM547.91 1151.4v-32.54h0.5v32.54zM549.1 1151.4v-48.81h0.5v48.81zM550.21 1151.4v-16.27h0.68v16.27zM551.45 1151.4v-48.81h0.59v48.81zM552.59 1151.4v-48.81h0.7v48.81zM553.87 1151.4v-32.54h0.54v32.54zM555.1 1151.4v-16.27h0.45v16.27zM556.2 1151.4v-32.54h0.66v32.54zM557.39 1151.4v-65.08h0.67v65.08zM558.65 1151.4v-32.54h0.53v32.54zM559.81 1151.4v-32.54h0.61v32.54zM561.08 1151.4v-32.54h0.45v32.54zM562.24 1151.4v-16.27h0.54v16.27zM563.37 1151.4v-48.81h0.66v48.81zM564.64 1151.4v-65.08h0.52v65.08zM565.75 1151.4v-48.81h0.7v48.81zM567.06 1151.4v-81.35h0.45v81.35zM569.42 1151.4v-32.54h0.51v32.54zM570.63 1151.4v-81.35h0.49v81.35zM571.81 1151.4v-16.27h0.52v16.27zM572.93 1151.4v-16.27h0.67v16.27zM574.22 1151.4v-16.27h0.49v16.27zM575.4 1151.4v-16.27h0.51v16.27zM576.61 1151.4v-16.27h0.49v16.27zM577.81 1151.4v-16.27h0.47v16.27zM578.92 1151.4v-32.54h0.65v32.54zM580.1 1151.4v-32.54h0.68v32.54zM581.34 1151.4v-65.08h0.59v65.08zM582.53 1151.4v-32.54h0.6v32.54zM583.68 1151.4v-16.27h0.69v16.27zM584.88 1151.4v-16.27h0.7v16.27zM586.2 1151.4v-65.08h0.43v65.08zM588.5 1151.4v-16.27h0.63v16.27zM589.7 1151.4v-16.27h0.62v16.27zM590.94 1151.4v-32.54h0.52v32.54zM592.1 1151.4v-16.27h0.59v16.27zM593.26 1151.4v-16.27h0.67v16.27zM595.68 1151.4v-16.27h0.61v16.27zM596.85 1151.4v-16.27h0.67v16.27zM598.14 1151.4v-32.54h0.47v32.54zM599.3 1151.4v-32.54h0.54v32.54zM600.43 1151.4v-32.54h0.68v32.54zM601.73 1151.4v-16.27h0.48v16.27zM604.01 1151.4v-16.27h0.69v16.27zM605.24 1151.4v-16.27h0.63v16.27zM606.43 1151.4v-16.27h0.64v16.27zM607.61 1151.4v-48.81h0.66v48.81zM608.85 1151.4v-16.27h0.58v16.27zM610.09 1151.4v-16.27h0.49v16.27zM611.27 1151.4v-32.54h0.52v32.54zM612.49 1151.4v-16.27h0.48v16.27zM613.69 1151.4v-32.54h0.46v32.54zM614.85 1151.4v-48.81h0.54v48.81zM615.98 1151.4v-32.54h0.67v32.54zM617.18 1151.4v-16.27h0.66v16.27zM618.48 1151.4v-32.54h0.47v32.54zM619.66 1151.4v-16.27h0.49v16.27zM621.97 1151.4v-16.27h0.66v16.27zM625.66 1151.4v-16.27h0.44v16.27zM626.79 1151.4v-16.27h0.58v16.27zM628.01 1151.4v-32.54h0.53v32.54zM630.39 1151.4v-32.54h0.56v32.54zM631.57 1151.4v-16.27h0.59v16.27zM632.76 1151.4v-48.81h0.61v48.81zM633.95 1151.4v-16.27h0.6v16.27zM635.13 1151.4v-16.27h0.63v16.27zM636.41 1151.4v-16.27h0.48v16.27zM637.53 1151.4v-16.27h0.63v16.27zM638.73 1151.4v-16.27h0.61v16.27zM642.33 1151.4v-16.27h0.59v16.27zM645.88 1151.4v-32.54h0.67v32.54zM647.15 1151.4v-65.08h0.51v65.08zM648.29 1151.4v-16.27h0.62v16.27zM649.58 1151.4v-16.27h0.43v16.27zM651.91 1151.4v-16.27h0.56v16.27zM653.06 1151.4v-32.54h0.66v32.54zM656.66 1151.4v-16.27h0.62v16.27zM660.22 1151.4v-16.27h0.68v16.27zM662.64 1151.4v-16.27h0.62v16.27zM663.9 1151.4v-48.81h0.49v48.81zM665.08 1151.4v-16.27h0.53v16.27zM666.19 1151.4v-32.54h0.7v32.54zM667.51 1151.4v-16.27h0.45v16.27zM669.78 1151.4v-48.81h0.7v48.81zM671.01 1151.4v-16.27h0.62v16.27zM672.23 1151.4v-32.54h0.57v32.54zM673.4 1151.4v-16.27h0.64v16.27zM674.65 1151.4v-16.27h0.52v16.27zM675.76 1151.4v-16.27h0.7v16.27zM678.15 1151.4v-16.27h0.7v16.27zM679.38 1151.4v-16.27h0.62v16.27zM680.62 1151.4v-16.27h0.53v16.27zM681.76 1151.4v-16.27h0.66v16.27zM683.04 1151.4v-16.27h0.49v16.27zM684.23 1151.4v-16.27h0.49v16.27zM690.24 1151.4v-16.27h0.44v16.27zM692.56 1151.4v-16.27h0.58v16.27zM693.72 1151.4v-16.27h0.64v16.27zM694.9 1151.4v-16.27h0.68v16.27zM696.13 1151.4v-16.27h0.61v16.27zM697.39 1151.4v-32.54h0.49v32.54zM698.48 1151.4v-16.27h0.69v16.27zM699.68 1151.4v-16.27h0.68v16.27zM700.98 1151.4v-16.27h0.47v16.27zM703.34 1151.4v-16.27h0.54v16.27zM704.46 1151.4v-16.27h0.69v16.27zM706.97 1151.4v-16.27h0.46v16.27zM709.34 1151.4v-16.27h0.49v16.27zM710.52 1151.4v-16.27h0.53v16.27zM715.33 1151.4v-16.27h0.48v16.27zM717.65 1151.4v-16.27h0.61v16.27zM718.91 1151.4v-16.27h0.49v16.27zM720.04 1151.4v-16.27h0.62v16.27zM721.28 1151.4v-16.27h0.54v16.27zM723.7 1151.4v-16.27h0.47v16.27zM724.79 1151.4v-32.54h0.69v32.54zM726.05 1151.4v-32.54h0.56v32.54zM730.77 1151.4v-16.27h0.68v16.27zM732.01 1151.4v-16.27h0.59v16.27zM733.21 1151.4v-16.27h0.6v16.27zM734.37 1151.4v-16.27h0.65v16.27zM736.76 1151.4v-16.27h0.67v16.27zM738 1151.4v-16.27h0.58v16.27zM740.39 1151.4v-32.54h0.57v32.54zM747.6 1151.4v-16.27h0.51v16.27zM750.01 1151.4v-48.81h0.48v48.81zM751.22 1151.4v-16.27h0.44v16.27zM752.39 1151.4v-32.54h0.49v32.54zM753.6 1151.4v-16.27h0.47v16.27zM754.81 1151.4v-16.27h0.43v16.27zM755.97 1151.4v-16.27h0.51v16.27zM757.09 1151.4v-16.27h0.66v16.27zM759.58 1151.4v-16.27h0.46v16.27zM763.14 1151.4v-48.81h0.53v48.81zM766.67 1151.4v-16.27h0.63v16.27zM770.32 1151.4v-16.27h0.51v16.27zM773.89 1151.4v-48.81h0.54v48.81zM777.5 1151.4v-16.27h0.5v16.27zM778.6 1151.4v-16.27h0.69v16.27zM779.87 1151.4v-16.27h0.53v16.27zM781.08 1151.4v-16.27h0.51v16.27zM782.23 1151.4v-16.27h0.6v16.27zM785.79 1151.4v-16.27h0.65v16.27zM787.06 1151.4v-16.27h0.51v16.27zM790.56 1151.4v-16.27h0.68v16.27zM791.87 1151.4v-16.27h0.46v16.27zM793.03 1151.4v-32.54h0.52v32.54zM794.19 1151.4v-16.27h0.6v16.27zM796.55 1151.4v-16.27h0.66v16.27zM797.84 1151.4v-16.27h0.48v16.27zM798.97 1151.4v-16.27h0.61v16.27zM800.15 1151.4v-16.27h0.63v16.27zM806.12 1151.4v-16.27h0.65v16.27zM807.33 1151.4v-32.54h0.62v32.54zM808.55 1151.4v-16.27h0.57v16.27zM809.75 1151.4v-16.27h0.58v16.27zM810.89 1151.4v-16.27h0.69v16.27zM812.09 1151.4v-16.27h0.68v16.27zM813.38 1151.4v-16.27h0.49v16.27zM815.73 1151.4v-16.27h0.57v16.27zM816.98 1151.4v-16.27h0.47v16.27zM818.16 1151.4v-16.27h0.49v16.27zM819.36 1151.4v-16.27h0.48v16.27zM821.69 1151.4v-16.27h0.6v16.27zM822.87 1151.4v-16.27h0.64v16.27zM824.16 1151.4v-16.27h0.46v16.27zM825.35 1151.4v-16.27h0.47v16.27zM827.74 1151.4v-16.27h0.47v16.27z"/>
<line x1="76.1" y1="1070.05" x2="864.1" y2="1070.05" class="mn"/>
<line x1="76.1" y1="907.35" x2="864.1" y2="907.35" class="mn"/>
<line x1="76.1" y1="744.65" x2="864.1" y2="744.65" class="mn"/>
<line x1="230.67" y1="690.9" x2="230.67" y2="1172.95" stroke="#000" stroke-width="3"/>
<text x="140.98" y="999.94" class="an">1%</text>
<text x="529.62" y="999.94" class="an">99%</text>
<rect x="76.1" y="690.9" width="788" height="482.05" class="fr"/>
<line x1="69.6" y1="1151.4" x2="76.1" y2="1151.4" class="tk"/>
<text transform="translate(63.5 1161.8) scale(1 1.08)" class="yk">0</text>
<line x1="69.6" y1="988.7" x2="76.1" y2="988.7" class="tk"/>
<text transform="translate(63.5 999.1) scale(1 1.08)" class="yk">10</text>
<line x1="69.6" y1="826" x2="76.1" y2="826" class="tk"/>
<text transform="translate(63.5 836.4) scale(1 1.08)" class="yk">20</text>
<line x1="81.19" y1="1172.95" x2="81.19" y2="1179.95" class="tk"/>
<text transform="translate(80.89 1205.25) scale(1 1.08)" class="xk">−25</text>
<line x1="230.67" y1="1172.95" x2="230.67" y2="1179.95" class="tk"/>
<text transform="translate(230.37 1205.25) scale(1 1.08)" class="xk">0</text>
<line x1="380.14" y1="1172.95" x2="380.14" y2="1179.95" class="tk"/>
<text transform="translate(379.84 1205.25) scale(1 1.08)" class="xk">25</text>
<line x1="529.62" y1="1172.95" x2="529.62" y2="1179.95" class="tk"/>
<text transform="translate(529.32 1205.25) scale(1 1.08)" class="xk">50</text>
<line x1="679.1" y1="1172.95" x2="679.1" y2="1179.95" class="tk"/>
<text transform="translate(678.8 1205.25) scale(1 1.08)" class="xk">75</text>
<line x1="828.57" y1="1172.95" x2="828.57" y2="1179.95" class="tk"/>
<text transform="translate(828.27 1205.25) scale(1 1.08)" class="xk">100</text>
<text transform="translate(466.5 1234.25) scale(1 1.035)" class="tt">Difference (buffer – urban) in</text>
<text transform="translate(470.1 1262.75) scale(1 1.035)" class="tt">frequency of annual average SDE50 (events/year)</text>
<text transform="translate(22 931.92) rotate(-90) scale(1 1.035)" class="tt">Frequency</text>
<text x="75.5" y="671.4" class="lb">(c)</text>
<line x1="975.2" y1="1151.35" x2="1749.8" y2="1151.35" class="g"/>
<line x1="975.2" y1="1021.5" x2="1749.8" y2="1021.5" class="g"/>
<line x1="975.2" y1="891.65" x2="1749.8" y2="891.65" class="g"/>
<line x1="975.2" y1="761.8" x2="1749.8" y2="761.8" class="g"/>
<line x1="1010.53" y1="1173.55" x2="1010.53" y2="690.9" class="g"/>
<line x1="1151.37" y1="1173.55" x2="1151.37" y2="690.9" class="g"/>
<line x1="1292.21" y1="1173.55" x2="1292.21" y2="690.9" class="g"/>
<line x1="1433.05" y1="1173.55" x2="1433.05" y2="690.9" class="g"/>
<line x1="1573.89" y1="1173.55" x2="1573.89" y2="690.9" class="g"/>
<line x1="1714.73" y1="1173.55" x2="1714.73" y2="690.9" class="g"/>
<path class="b" d="M1021.09 1151.35V1148.75H1028.14V1151.35zM1035.18 1151.35V1148.75H1042.22V1151.35zM1049.26 1151.35V1148.75H1056.3V1151.35zM1063.35 1151.35V1146.16H1070.39V1151.35zM1077.43 1151.35V1148.75H1084.47V1151.35zM1091.51 1151.35V1148.75H1098.56V1151.35zM1105.6 1151.35V1146.16H1112.64V1151.35zM1119.68 1151.35V1143.56H1126.72V1151.35zM1133.77 1151.35V1146.16H1140.81V1151.35zM1147.85 1151.35V1130.57H1154.89V1151.35zM1161.93 1151.35V1133.17H1168.98V1151.35zM1176.02 1151.35V1135.77H1183.06V1151.35zM1190.1 1151.35V1122.78H1197.14V1151.35zM1204.18 1151.35V1120.19H1211.23V1151.35zM1218.27 1151.35V1122.78H1225.31V1151.35zM1232.35 1151.35V1114.99H1239.39V1151.35zM1246.44 1151.35V1107.2H1253.48V1151.35zM1260.52 1151.35V1102.01H1267.56V1151.35zM1274.61 1151.35V1086.42H1281.65V1151.35zM1288.69 1151.35V1073.44H1295.73V1151.35zM1302.77 1151.35V1034.48H1309.82V1151.35zM1316.86 1151.35V990.34H1323.9V1151.35zM1330.94 1151.35V969.56H1337.98V1151.35zM1345.03 1151.35V881.26H1352.07V1151.35zM1359.11 1151.35V863.08H1366.15V1151.35zM1373.19 1151.35V831.92H1380.24V1151.35zM1387.28 1151.35V782.58H1394.32V1151.35zM1401.36 1151.35V738.43H1408.4V1151.35zM1415.45 1151.35V754.01H1422.49V1151.35zM1429.53 1151.35V720.25H1436.57V1151.35zM1443.61 1151.35V751.41H1450.66V1151.35zM1457.7 1151.35V720.25H1464.74V1151.35zM1471.78 1151.35V741.02H1478.82V1151.35zM1485.87 1151.35V785.17H1492.91V1151.35zM1499.95 1151.35V782.58H1506.99V1151.35zM1514.03 1151.35V891.65H1521.08V1151.35zM1528.12 1151.35V961.77H1535.16V1151.35zM1542.2 1151.35V995.53H1549.24V1151.35zM1556.29 1151.35V1065.65H1563.33V1151.35zM1570.37 1151.35V1078.63H1577.41V1151.35zM1584.45 1151.35V1107.2H1591.5V1151.35zM1598.54 1151.35V1122.78H1605.58V1151.35zM1612.62 1151.35V1135.77H1619.66V1151.35zM1626.71 1151.35V1138.37H1633.75V1151.35zM1640.79 1151.35V1127.98H1647.83V1151.35zM1654.87 1151.35V1148.75H1661.92V1151.35zM1668.96 1151.35V1135.77H1676V1151.35zM1683.04 1151.35V1146.16H1690.08V1151.35zM1697.12 1151.35V1148.75H1704.17V1151.35z"/><path class="b" d="M1014.05 1151.35V1148.75H1021.09V1151.35zM1042.22 1151.35V1146.16H1049.26V1151.35zM1070.39 1151.35V1143.56H1077.43V1151.35zM1098.56 1151.35V1148.75H1105.6V1151.35zM1112.64 1151.35V1146.16H1119.68V1151.35zM1126.72 1151.35V1140.96H1133.77V1151.35zM1140.81 1151.35V1130.57H1147.85V1151.35zM1154.89 1151.35V1138.37H1161.93V1151.35zM1168.97 1151.35V1135.77H1176.02V1151.35zM1183.06 1151.35V1130.57H1190.1V1151.35zM1197.14 1151.35V1130.57H1204.18V1151.35zM1211.23 1151.35V1114.99H1218.27V1151.35zM1225.31 1151.35V1096.81H1232.35V1151.35zM1239.39 1151.35V1114.99H1246.44V1151.35zM1253.48 1151.35V1081.23H1260.52V1151.35zM1267.56 1151.35V1104.6H1274.61V1151.35zM1281.65 1151.35V1060.45H1288.69V1151.35zM1295.73 1151.35V1037.08H1302.77V1151.35zM1309.82 1151.35V1013.71H1316.86V1151.35zM1323.9 1151.35V974.75H1330.94V1151.35zM1337.98 1151.35V951.38H1345.03V1151.35zM1352.07 1151.35V886.46H1359.11V1151.35zM1366.15 1151.35V800.75H1373.19V1151.35zM1380.24 1151.35V761.8H1387.28V1151.35zM1394.32 1151.35V766.99H1401.36V1151.35zM1408.4 1151.35V712.46H1415.45V1151.35zM1422.49 1151.35V751.41H1429.53V1151.35zM1436.57 1151.35V743.62H1443.61V1151.35zM1450.66 1151.35V730.64H1457.7V1151.35zM1464.74 1151.35V774.78H1471.78V1151.35zM1478.82 1151.35V785.17H1485.87V1151.35zM1492.91 1151.35V834.52H1499.95V1151.35zM1506.99 1151.35V881.26H1514.03V1151.35zM1521.08 1151.35V915.02H1528.12V1151.35zM1535.16 1151.35V1000.72H1542.2V1151.35zM1549.24 1151.35V1026.69H1556.29V1151.35zM1563.33 1151.35V1063.05H1570.37V1151.35zM1577.41 1151.35V1096.81H1584.45V1151.35zM1591.5 1151.35V1114.99H1598.54V1151.35zM1605.58 1151.35V1130.57H1612.62V1151.35zM1619.66 1151.35V1140.96H1626.71V1151.35zM1633.75 1151.35V1138.37H1640.79V1151.35zM1647.83 1151.35V1146.16H1654.87V1151.35zM1661.92 1151.35V1146.16H1668.96V1151.35zM1676 1151.35V1140.96H1683.04V1151.35zM1690.08 1151.35V1140.96H1697.12V1151.35z"/>
<line x1="975.8" y1="1086.42" x2="1749.8" y2="1086.42" class="mn"/>
<line x1="975.8" y1="956.57" x2="1749.8" y2="956.57" class="mn"/>
<line x1="975.8" y1="826.72" x2="1749.8" y2="826.72" class="mn"/>
<line x1="1573.89" y1="690.9" x2="1573.89" y2="1172.95" stroke="#000" stroke-width="3"/>
<text x="1151.37" y="967.82" class="an">97%</text>
<text x="1644.31" y="967.82" class="an">3%</text>
<rect x="975.8" y="690.9" width="774" height="482.05" class="fr"/>
<line x1="969.3" y1="1151.35" x2="975.8" y2="1151.35" class="tk"/>
<text transform="translate(963.2 1161.75) scale(1 1.08)" class="yk">0</text>
<line x1="969.3" y1="1021.5" x2="975.8" y2="1021.5" class="tk"/>
<text transform="translate(963.2 1031.9) scale(1 1.08)" class="yk">50</text>
<line x1="969.3" y1="891.65" x2="975.8" y2="891.65" class="tk"/>
<text transform="translate(963.2 902.05) scale(1 1.08)" class="yk">100</text>
<line x1="969.3" y1="761.8" x2="975.8" y2="761.8" class="tk"/>
<text transform="translate(963.2 772.2) scale(1 1.08)" class="yk">150</text>
<line x1="1010.53" y1="1172.95" x2="1010.53" y2="1179.95" class="tk"/>
<text transform="translate(1010.23 1205.25) scale(1 1.08)" class="xk">−0.4</text>
<line x1="1151.37" y1="1172.95" x2="1151.37" y2="1179.95" class="tk"/>
<text transform="translate(1151.07 1205.25) scale(1 1.08)" class="xk">−0.3</text>
<line x1="1292.21" y1="1172.95" x2="1292.21" y2="1179.95" class="tk"/>
<text transform="translate(1291.91 1205.25) scale(1 1.08)" class="xk">−0.2</text>
<line x1="1433.05" y1="1172.95" x2="1433.05" y2="1179.95" class="tk"/>
<text transform="translate(1432.75 1205.25) scale(1 1.08)" class="xk">−0.1</text>
<line x1="1573.89" y1="1172.95" x2="1573.89" y2="1179.95" class="tk"/>
<text transform="translate(1573.59 1205.25) scale(1 1.08)" class="xk">0.0</text>
<line x1="1714.73" y1="1172.95" x2="1714.73" y2="1179.95" class="tk"/>
<text transform="translate(1714.43 1205.25) scale(1 1.08)" class="xk">0.1</text>
<text transform="translate(1359.2 1234.25) scale(1 1.035)" class="tt">Difference (buffer−urban) in annual</text>
<text transform="translate(1362.8 1262.75) scale(1 1.035)" class="tt">average intensity of SDE50 (mm/event/year)</text>
<text transform="translate(907.7 931.92) rotate(-90) scale(1 1.035)" class="tt">Frquency</text>
<text x="975.2" y="671.4" class="lb">(d)</text>
</svg>
</body></html>
